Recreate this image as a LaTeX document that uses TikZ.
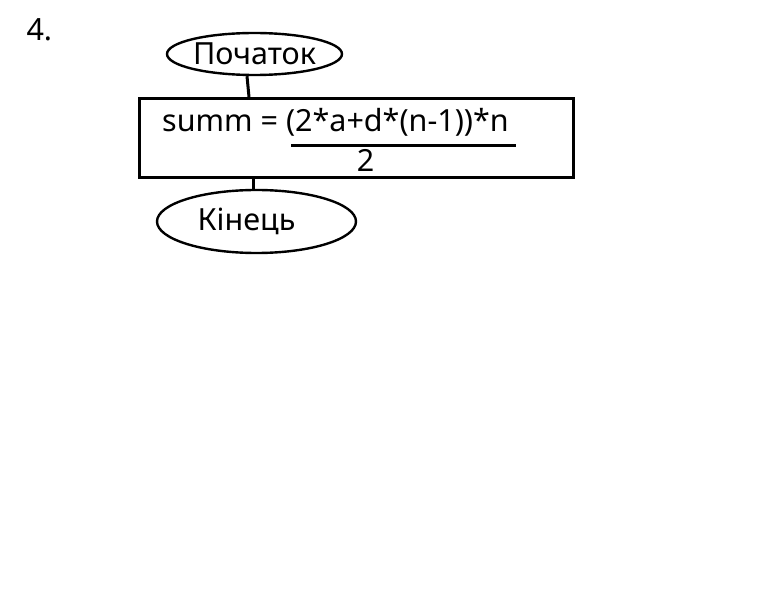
\documentclass[tikz,border=0pt]{standalone}
\usepackage{fontspec}
\setmainfont{Noto Sans}
\usetikzlibrary{shapes.geometric,positioning}
\tikzset{
    every picture/.style={
        x=1pt,y=-1pt,font=\fontsize{30.5}{36}\selectfont,
        term/.style={ellipse,draw,line width=2.4pt,inner sep=0pt},
        block/.style={rectangle,draw,line width=3pt,inner sep=0pt},
        link/.style={line width=3pt}
    }
}
\begin{document}
\begin{tikzpicture}
    \useasboundingbox (0,0) rectangle (771,612);
    \node[anchor=base west] (num) at (23,41) {4.};
    \node[term,minimum width=175pt,minimum height=42pt] (start) at (254.5,54) {Початок};
    \node[block,minimum width=434pt,minimum height=79pt] (calc) at (356.5,138) {};
    \node[anchor=base west,inner sep=0pt] (formula) at (162,132) {summ = (2*a+d*(n-1))*n};
    \node[anchor=base,inner sep=0pt] (denom) at (365.5,172) {2};
    \draw[link] (291,146) -- (516,146); % fraction bar
    \node[term,minimum width=199pt,minimum height=63pt,
          label={[xshift=-10pt]center:Кінець}] (end) at (256.5,221.5) {};
    \draw[link] ([xshift=-7.5pt]start.south) -- ([xshift=-107.5pt]calc.north);
    \draw[link] ([xshift=-103.5pt]calc.south) -- ([xshift=-3.5pt]end.north);
\end{tikzpicture}
\end{document}
